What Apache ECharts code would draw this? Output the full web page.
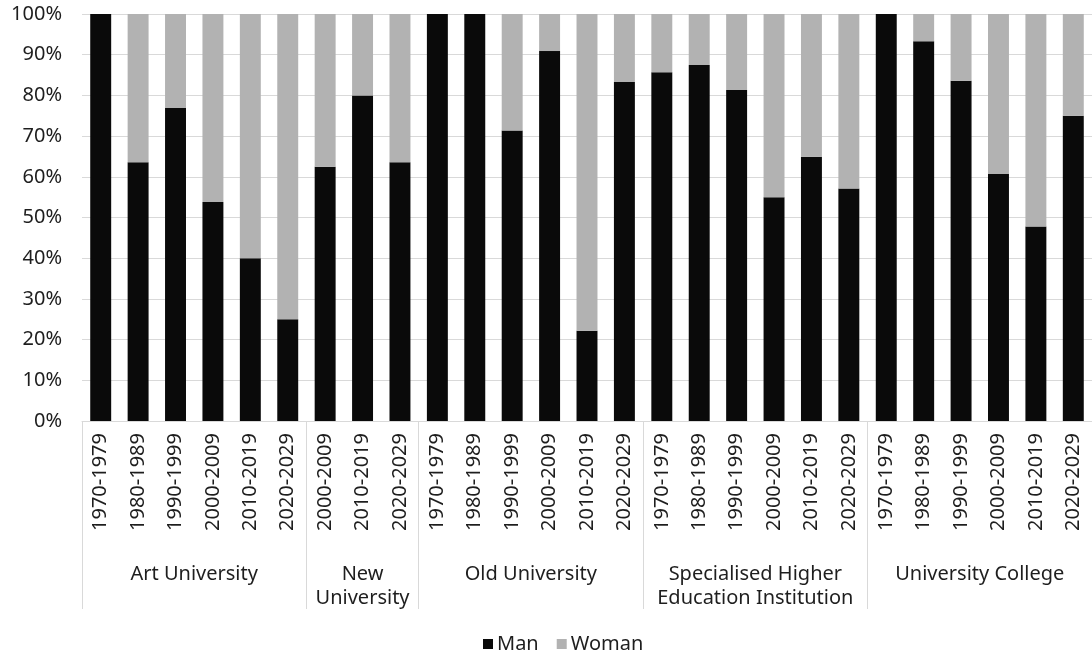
<!DOCTYPE html>
<html>
<head>
<meta charset="utf-8">
<script src="https://cdn.jsdelivr.net/npm/echarts@6/dist/echarts.min.js"></script>
<style>
  html, body { margin: 0; padding: 0; background: #fff; }
  #chart { width: 1092px; height: 657px; }
</style>
</head>
<body>
<div id="chart"></div>
<script>
// Institution types and how many decades each one spans
const groupNames = ['Art University', 'New\nUniversity', 'Old University',
                    'Specialised Higher\nEducation Institution', 'University College'];
const groupSizes = [6, 3, 6, 6, 6];

// Decade label for every bar, in group order
const periods = [
  '1970-1979', '1980-1989', '1990-1999', '2000-2009', '2010-2019', '2020-2029',
  '2000-2009', '2010-2019', '2020-2029',
  '1970-1979', '1980-1989', '1990-1999', '2000-2009', '2010-2019', '2020-2029',
  '1970-1979', '1980-1989', '1990-1999', '2000-2009', '2010-2019', '2020-2029',
  '1970-1979', '1980-1989', '1990-1999', '2000-2009', '2010-2019', '2020-2029'
];

// Share of men and women (%)
const man = [
  100, 63.6, 76.9, 53.8, 40.0, 25.0,
  62.5, 80.0, 63.6,
  100, 100, 71.4, 90.9, 22.2, 83.3,
  85.7, 87.5, 81.3, 55.0, 64.9, 57.1,
  100, 93.3, 83.6, 60.7, 47.8, 75.0
];
const woman = [
  0, 36.4, 23.1, 46.2, 60.0, 75.0,
  37.5, 20.0, 36.4,
  0, 0, 28.6, 9.1, 77.8, 16.7,
  14.3, 12.5, 18.7, 45.0, 35.1, 42.9,
  0, 6.7, 16.4, 39.3, 52.2, 25.0
];

const yTicks = [0, 10, 20, 30, 40, 50, 60, 70, 80, 90, 100];

// Group boundaries and centres on a 0..N scale shared with the category bands
const bounds = [0];
groupSizes.forEach(s => bounds.push(bounds[bounds.length - 1] + s));
const centers = groupSizes.map((s, i) => bounds[i] + s / 2);

const FONT = "'Noto Sans', 'Open Sans', sans-serif";
const TEXT = '#1e1e1e';
const GRID = '#d9d9d9';

const chart = echarts.init(document.getElementById('chart'), null, { renderer: 'canvas' });

chart.setOption({
  animation: false,
  backgroundColor: '#ffffff',
  textStyle: { fontFamily: FONT },
  grid: { left: 82, top: 14, width: 1017, height: 407, containLabel: false },
  legend: {
    left: 478,
    top: 629,
    icon: 'rect',
    itemWidth: 10,
    itemHeight: 10,
    itemGap: 18,
    textStyle: { fontFamily: FONT, fontSize: 20, color: TEXT, padding: [0, 0, 0, -1] },
    data: ['Man', 'Woman']
  },
  xAxis: [
    {
      type: 'category',
      data: periods,
      position: 'bottom',
      axisLine: { show: true, lineStyle: { color: GRID, width: 1 } },
      axisTick: { show: false },
      axisLabel: {
        rotate: 90,
        interval: 0,
        margin: 12,
        fontFamily: FONT,
        fontSize: 20,
        color: TEXT
      },
      splitLine: { show: false }
    },
    {
      type: 'value',
      min: 0,
      max: periods.length,
      position: 'bottom',
      axisLine: { show: false },
      axisTick: {
        show: true,
        customValues: bounds,
        length: 188,
        lineStyle: { color: GRID, width: 1 }
      },
      axisLabel: {
        show: true,
        customValues: centers,
        margin: 141,
        fontFamily: FONT,
        fontSize: 20,
        lineHeight: 24,
        color: TEXT,
        align: 'center',
        formatter: v => groupNames[centers.indexOf(v)] || ''
      },
      splitLine: { show: false }
    }
  ],
  yAxis: {
    type: 'value',
    min: 0,
    max: 100,
    interval: 10,
    axisLine: { show: false },
    axisTick: { show: false },
    axisLabel: {
      margin: 20,
      fontFamily: FONT,
      fontSize: 20,
      color: TEXT,
      formatter: v => (yTicks.includes(v) ? v + '%' : '')
    },
    splitLine: { show: true, lineStyle: { color: GRID, width: 1 } }
  },
  series: [
    {
      name: 'Man',
      type: 'bar',
      stack: 'share',
      xAxisIndex: 0,
      data: man,
      barWidth: '56%',
      itemStyle: { color: '#0a0a0a' }
    },
    {
      name: 'Woman',
      type: 'bar',
      stack: 'share',
      xAxisIndex: 0,
      data: woman,
      barWidth: '56%',
      itemStyle: { color: '#b2b2b2' }
    }
  ]
});
</script>
</body>
</html>
